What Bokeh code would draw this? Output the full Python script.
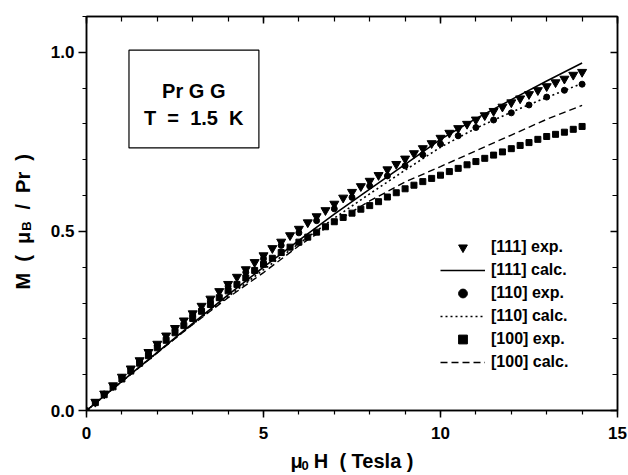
from bokeh.plotting import figure
from bokeh.models import (Range1d, LinearAxis, FixedTicker, Label, BoxAnnotation,
                          Legend, LegendItem)
from bokeh.embed import file_html
from bokeh.resources import INLINE

# ---------------- data ----------------
field_q = [0.25, 0.5, 0.75, 1.0, 1.25, 1.5, 1.75, 2.0, 2.25, 2.5, 2.75, 3.0, 3.25, 3.5,
           3.75, 4.0, 4.25, 4.5, 4.75, 5.0, 5.25, 5.5, 5.75, 6.0, 6.25, 6.5, 6.75, 7.0,
           7.25, 7.5, 7.75, 8.0, 8.25, 8.5, 8.75, 9.0, 9.25, 9.5, 9.75, 10.0, 10.25, 10.5,
           10.75, 11.0, 11.25, 11.5, 11.75, 12.0, 12.25, 12.5, 12.75, 13.0, 13.25, 13.5,
           13.75, 14.0]
m111_exp = [0.024, 0.047, 0.070, 0.094, 0.117, 0.140, 0.163, 0.186, 0.209, 0.230, 0.251,
            0.271, 0.292, 0.312, 0.333, 0.353, 0.373, 0.394, 0.414, 0.433, 0.453, 0.471,
            0.489, 0.507, 0.525, 0.542, 0.559, 0.577, 0.594, 0.610, 0.626, 0.641, 0.657,
            0.673, 0.688, 0.703, 0.718, 0.732, 0.746, 0.761, 0.775, 0.788, 0.800, 0.812,
            0.824, 0.836, 0.848, 0.860, 0.871, 0.883, 0.894, 0.905, 0.916, 0.926, 0.937,
            0.945]
m100_exp = [0.022, 0.044, 0.066, 0.088, 0.110, 0.132, 0.153, 0.175, 0.196, 0.217, 0.237,
            0.257, 0.277, 0.296, 0.315, 0.334, 0.352, 0.370, 0.391, 0.408, 0.425, 0.441,
            0.456, 0.470, 0.484, 0.498, 0.513, 0.527, 0.539, 0.551, 0.562, 0.572, 0.583,
            0.596, 0.608, 0.619, 0.629, 0.639, 0.648, 0.657, 0.667, 0.676, 0.686, 0.695,
            0.704, 0.713, 0.722, 0.731, 0.740, 0.748, 0.757, 0.765, 0.771, 0.777, 0.785,
            0.793]
field_h = [0.0, 0.5, 1.0, 1.5, 2.0, 2.5, 3.0, 3.5, 4.0, 4.5, 5.0, 5.5, 6.0, 6.5, 7.0,
           7.5, 8.0, 8.5, 9.0, 9.5, 10.0, 10.5, 11.0, 11.5, 12.0, 12.5, 13.0, 13.5, 14.0]
m110_exp = [0.0, 0.046, 0.092, 0.137, 0.182, 0.226, 0.267, 0.307, 0.347, 0.386, 0.424,
            0.461, 0.496, 0.530, 0.563, 0.595, 0.627, 0.655, 0.683, 0.714, 0.744, 0.767,
            0.790, 0.811, 0.831, 0.853, 0.875, 0.894, 0.911]
field_c = [0, 1, 2, 3, 4, 5, 6, 7, 8, 9, 10, 11, 12, 13, 14]
m111_calc = [0.0, 0.081, 0.162, 0.243, 0.323, 0.400, 0.475, 0.548, 0.618, 0.687, 0.757,
             0.815, 0.868, 0.920, 0.970]
m110_calc = [0.0, 0.081, 0.162, 0.241, 0.318, 0.393, 0.466, 0.537, 0.605, 0.671, 0.735,
             0.788, 0.833, 0.874, 0.913]
m100_calc = [0.0, 0.081, 0.161, 0.240, 0.315, 0.385, 0.460, 0.525, 0.585, 0.638, 0.681,
             0.725, 0.769, 0.813, 0.852]

x_major = [0, 5, 10, 15]
x_labels = ["0", "5", "10", "15"]
x_minor = [0, 1, 2, 3, 4, 5, 6, 7, 8, 9, 10, 11, 12, 13, 14, 15]
y_major = [0.0, 0.5, 1.0]
y_labels = ["0.0", "0.5", "1.0"]
y_minor = [0.0, 0.1, 0.2, 0.3, 0.4, 0.5, 0.6, 0.7, 0.8, 0.9, 1.0, 1.1]

legend_labels = ["[111] exp.", "[111] calc.", "[110] exp.", "[110] calc.",
                 "[100] exp.", "[100] calc."]
NB = "\u00a0"
x_title, x_title_sub = "\u03bc" + NB * 2 + "H" + NB * 2 + "(" + NB + "Tesla" + NB + ")", "0"
y_title = "M" + NB * 2 + "(" + NB * 2 + "\u03bc" + NB * 4 + "/" + NB * 2 + "Pr" + NB * 2 + ")"
y_title_sub = "B"
box_lines = ["Pr G G", "T" + NB * 2 + "=" + NB * 2 + "1.5" + NB * 2 + "K"]

FONT = "Liberation Sans"
W, H = 628, 475

# ---------------- figure ----------------
p = figure(width=W, height=H,
           x_range=Range1d(0, 15), y_range=Range1d(0, 1.1),
           output_backend="svg", toolbar_location=None,
           min_border_left=86, min_border_right=11, min_border_top=16, min_border_bottom=63)
p.xgrid.visible = False
p.ygrid.visible = False
p.outline_line_color = "black"
p.outline_line_width = 1.5
p.background_fill_color = "white"
p.border_fill_color = "white"

def style_axis(ax, ticks, minor, labels, outward, show_labels):
    ax.ticker = FixedTicker(ticks=ticks, minor_ticks=minor)
    ax.axis_line_color = "black"
    ax.axis_line_width = 1.5
    ax.major_tick_line_color = "black"
    ax.minor_tick_line_color = "black"
    ax.major_tick_line_width = 1.5
    ax.minor_tick_line_width = 1.2
    if outward:
        ax.major_tick_out, ax.major_tick_in = 7, 0
        ax.minor_tick_out, ax.minor_tick_in = 4, 0
    else:
        ax.major_tick_out, ax.major_tick_in = 0, 7
        ax.minor_tick_out, ax.minor_tick_in = 0, 5
    if show_labels:
        ax.major_label_overrides = dict(zip(ticks, labels))
        ax.major_label_text_font = FONT
        ax.major_label_text_font_style = "bold"
        ax.major_label_text_font_size = "17px"
        ax.major_label_text_color = "black"
    else:
        ax.major_label_overrides = {t: "" for t in ticks}
        ax.major_label_text_font_size = "0px"
        ax.major_label_standoff = 0

def title_style(ax, text, size, standoff):
    ax.axis_label = text
    ax.axis_label_text_font = FONT
    ax.axis_label_text_font_style = "bold"
    ax.axis_label_text_font_size = size
    ax.axis_label_text_color = "black"
    ax.axis_label_standoff = standoff

def title_only_axis(text, size, standoff):
    ax = LinearAxis(ticker=FixedTicker(ticks=[]))
    ax.axis_line_color = None
    ax.major_tick_out = ax.major_tick_in = 0
    ax.minor_tick_out = ax.minor_tick_in = 0
    ax.major_label_text_font_size = "0px"
    ax.major_label_standoff = 0
    title_style(ax, text, size, standoff)
    return ax

# bottom axis (ticks + main title), extra axis for the sub-script "0"
xa = p.xaxis[0]
style_axis(xa, x_major, x_minor, x_labels, True, True)
xa.major_label_standoff = 9
title_style(xa, x_title, "20px", 8)
p.add_layout(title_only_axis(x_title_sub + " " * 26, "13px", -17), "below")

# left axis (ticks + sub-script "B"), extra axis for main title
ya = p.yaxis[0]
style_axis(ya, y_major, y_minor, y_labels, True, True)
ya.major_tick_out = 8
ya.major_label_standoff = 4
title_style(ya, y_title_sub + " " * 7, "13px", 14)
p.add_layout(title_only_axis(y_title + "   ", "20px", -18), "left")

top = LinearAxis()
style_axis(top, x_major, x_minor, x_labels, False, False)
p.add_layout(top, "above")
right = LinearAxis()
style_axis(right, y_major, y_minor, y_labels, False, False)
p.add_layout(right, "right")

# ---------------- curves and points ----------------
r_c111 = p.line(field_c, m111_calc, line_color="black", line_width=1.6)
r_c110 = p.line(field_c, m110_calc, line_color="black", line_width=1.6, line_dash="2 3")
r_c100 = p.line(field_c, m100_calc, line_color="black", line_width=1.4, line_dash="7 4")
r_e111 = p.scatter(field_q, m111_exp, marker="inverted_triangle", size=9,
                   fill_color="black", line_color="black")
r_e110 = p.scatter(field_h, m110_exp, marker="circle", size=6,
                   fill_color="black", line_color="black")
r_e100 = p.scatter(field_q, m100_exp, marker="square", size=6,
                   fill_color="black", line_color="black")

# ---------------- legend ----------------
renderers = [r_e111, r_c111, r_e110, r_c110, r_e100, r_c100]
legend = Legend(items=[LegendItem(label=l, renderers=[r])
                       for l, r in zip(legend_labels, renderers)],
                location=(354, 37), orientation="vertical",
                border_line_color=None, background_fill_alpha=0,
                padding=0, margin=0, spacing=1, glyph_width=45, glyph_height=22,
                label_height=22, label_standoff=6,
                label_text_font=FONT, label_text_font_style="bold",
                label_text_font_size="16px", label_text_color="black")
p.add_layout(legend, "center")

# ---------------- annotation box ----------------
p.add_layout(BoxAnnotation(left=1.2, right=4.87, bottom=0.733, top=1.006,
                           fill_color=None, fill_alpha=0, line_color="black",
                           line_alpha=1.0, line_width=1.2))
for txt, yy in zip(box_lines, [0.892, 0.817]):
    p.add_layout(Label(x=3.03, y=yy, text=txt, text_align="center",
                       text_baseline="alphabetic", text_font=FONT,
                       text_font_style="bold", text_font_size="20px",
                       text_color="black"))

open("out.html", "w").write(file_html(p, INLINE))
